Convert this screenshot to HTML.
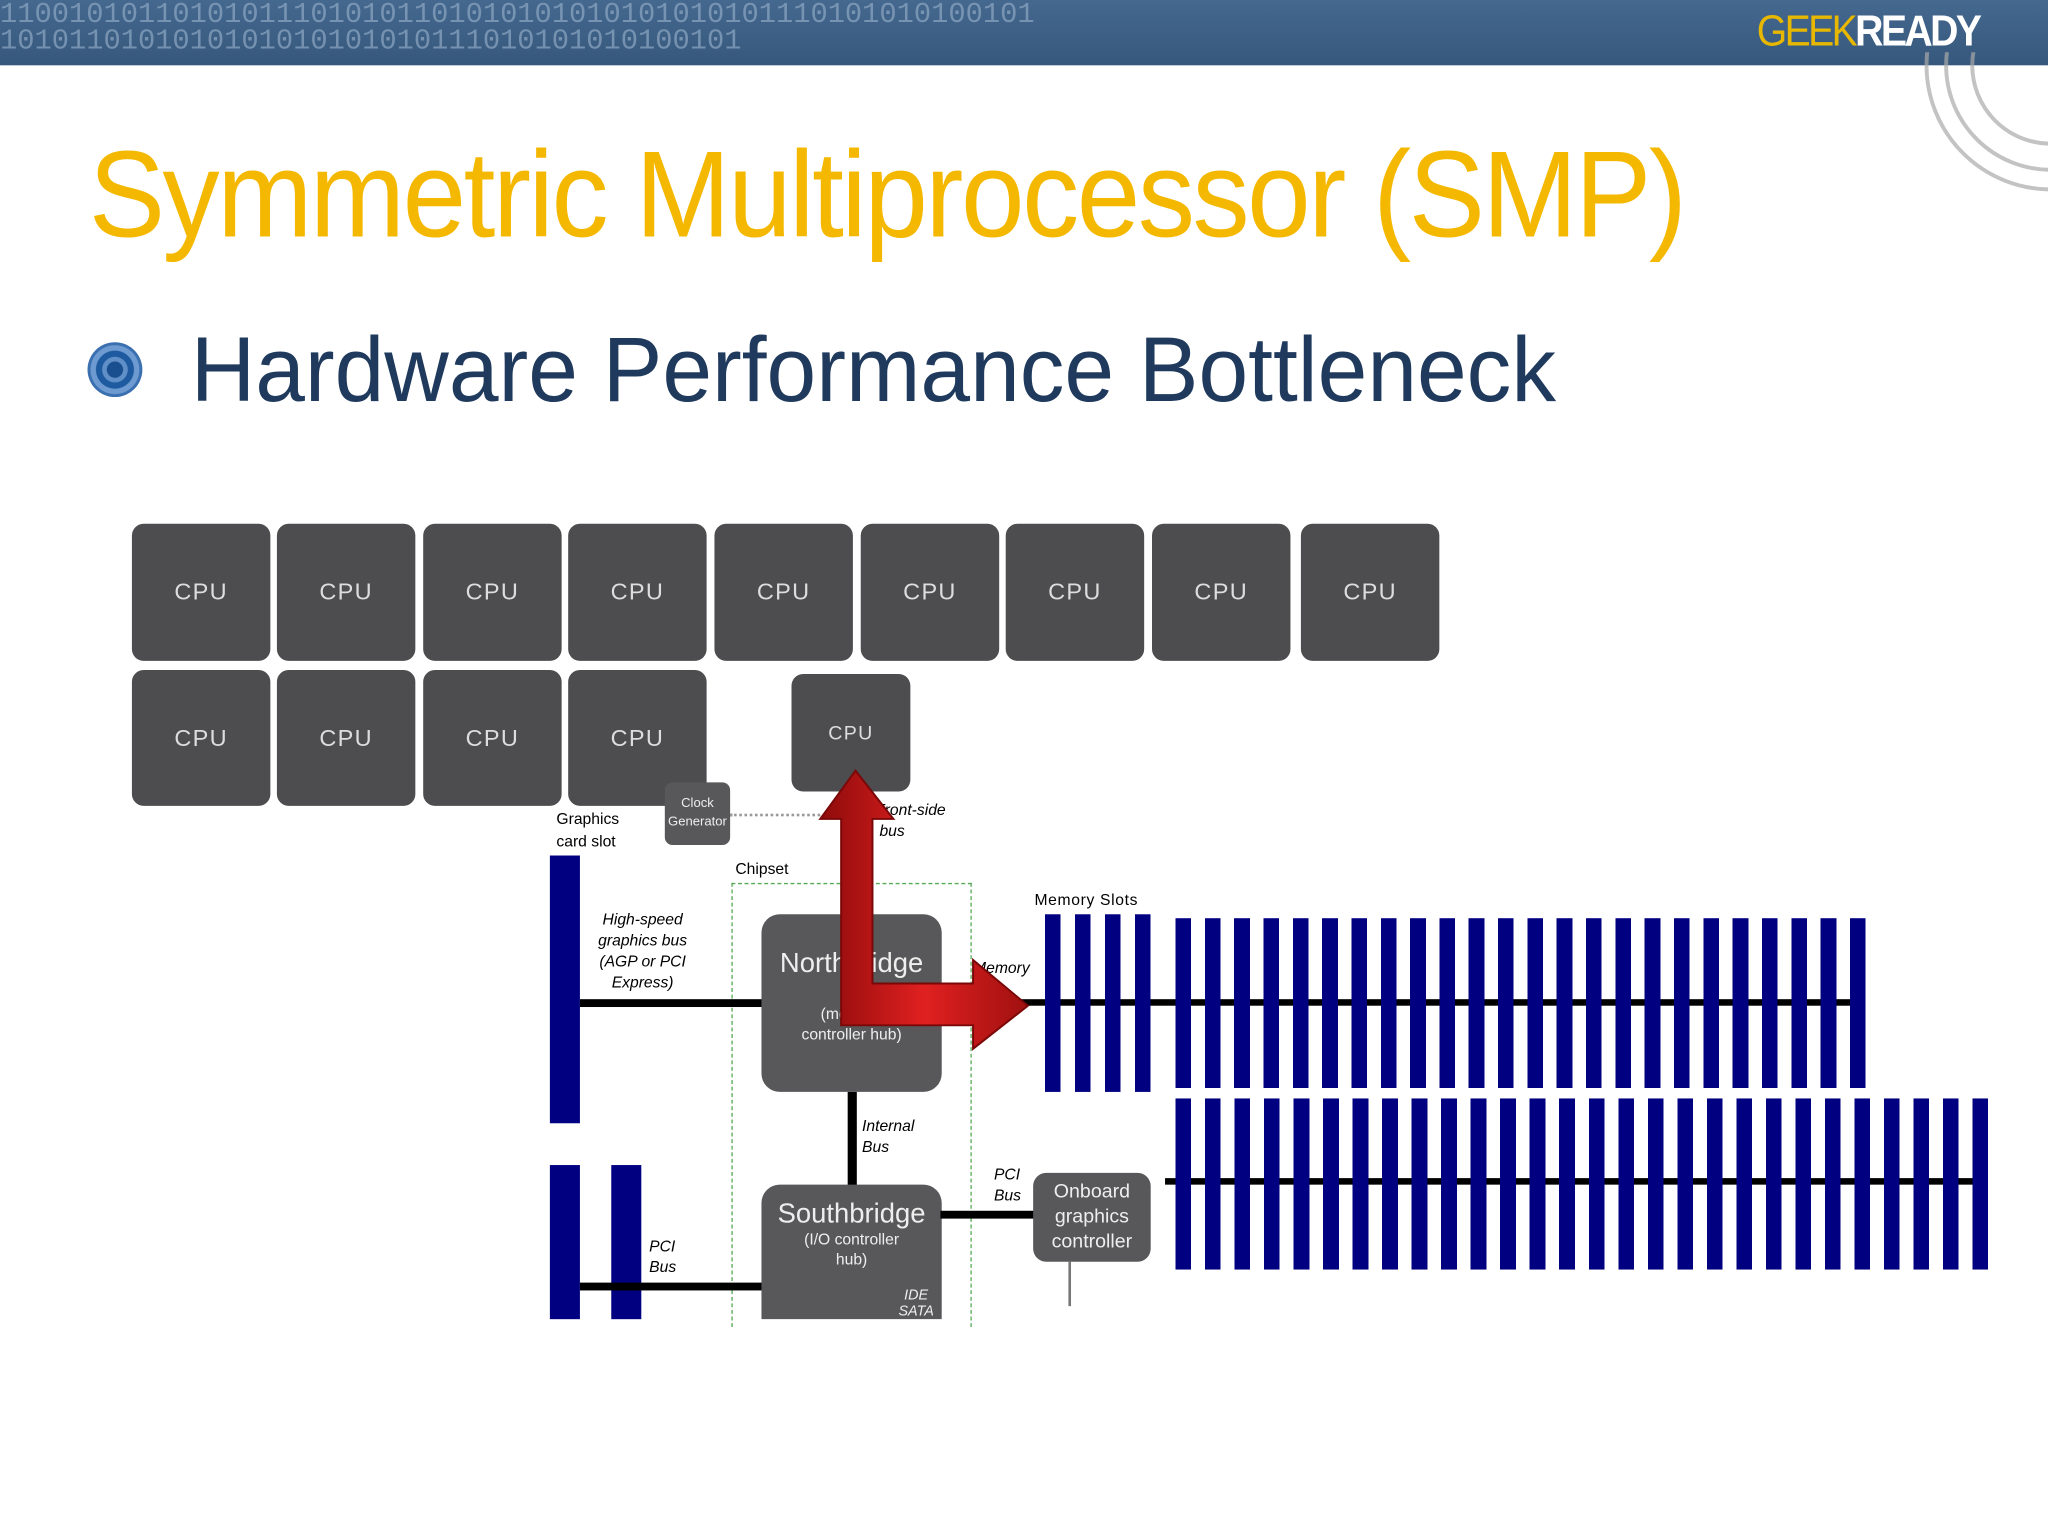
<!DOCTYPE html>
<html><head><meta charset="utf-8"><style>
html,body{margin:0;padding:0;width:2048px;height:1536px;overflow:hidden;background:#fff}
#s{position:absolute;left:0;top:0;width:1568px;height:1176px;transform:scale(1.30612);transform-origin:0 0;font-family:"Liberation Sans","DejaVu Sans",sans-serif}
.a{position:absolute}
.cpu{position:absolute;background:#4d4d4f;border-radius:9px;color:#ddd;font-size:18px;display:flex;align-items:center;justify-content:center;letter-spacing:1px}
.bx{position:absolute;background:#58585a;border-radius:14px;color:#eee;text-align:center}
.nv{position:absolute;background:#000080}
.bk{position:absolute;background:#000}
.it{position:absolute;font-style:italic;font-size:12px;line-height:16px;color:#000}
.sm{position:absolute;font-size:12px;line-height:17px;color:#000}
</style></head><body><div id="s">
<div class="a" style="left:0;top:0;width:1568px;height:50px;background:linear-gradient(#45688f,#36587c)"></div>
<div class="a" style="left:0;top:2px;font-family:'Liberation Mono',monospace;font-size:22px;line-height:20px;color:#8fa8c4;opacity:.7;white-space:pre">110010101101010111010101101010101010101010101110101010100101
1010110101010101010101010111010101010100101</div>
<div class="a" style="left:1345px;top:8px;font-size:30px;font-weight:bold;letter-spacing:-2px;color:#fff;transform:scaleY(1.1)"><span style="color:#e8b800;font-weight:normal">GEEK</span>READY</div>
<svg class="a" style="left:1400px;top:40px" width="168" height="110"><g fill="none" stroke="#aaa" stroke-width="3" opacity=".7"><circle cx="170" cy="10" r="80"/><circle cx="170" cy="10" r="95"/><circle cx="170" cy="10" r="60"/></g></svg>
<div class="a" style="left:68px;top:95px;font-size:94px;color:#f5b800;font-weight:300;letter-spacing:-2px;white-space:nowrap;transform:scaleX(0.93);transform-origin:0 0">Symmetric Multiprocessor (SMP)</div>
<div class="a" style="left:67px;top:262px;width:42px;height:42px;border-radius:50%;background:radial-gradient(circle,#1a4f8f 0 20%,#5f8fc6 22% 32%,#1e5aa0 34% 48%,#6d9ad0 50% 62%,#3a6fb0 64%)"></div>
<div class="a" style="left:146px;top:243px;font-size:70px;color:#1f3a5c;white-space:nowrap;transform:scaleX(0.977);transform-origin:0 0">Hardware Performance Bottleneck</div>

<div class="cpu" style="left:101px;top:401px;width:106px;height:105px">CPU</div>
<div class="cpu" style="left:212px;top:401px;width:106px;height:105px">CPU</div>
<div class="cpu" style="left:324px;top:401px;width:106px;height:105px">CPU</div>
<div class="cpu" style="left:435px;top:401px;width:106px;height:105px">CPU</div>
<div class="cpu" style="left:547px;top:401px;width:106px;height:105px">CPU</div>
<div class="cpu" style="left:659px;top:401px;width:106px;height:105px">CPU</div>
<div class="cpu" style="left:770px;top:401px;width:106px;height:105px">CPU</div>
<div class="cpu" style="left:882px;top:401px;width:106px;height:105px">CPU</div>
<div class="cpu" style="left:996px;top:401px;width:106px;height:105px">CPU</div>
<div class="cpu" style="left:101px;top:513px;width:106px;height:104px">CPU</div>
<div class="cpu" style="left:212px;top:513px;width:106px;height:104px">CPU</div>
<div class="cpu" style="left:324px;top:513px;width:106px;height:104px">CPU</div>
<div class="cpu" style="left:435px;top:513px;width:106px;height:104px">CPU</div>
<div class="cpu" style="left:606px;top:516px;width:91px;height:90px;font-size:15px">CPU</div>

<div class="bx" style="left:509px;top:599px;width:50px;height:48px;border-radius:6px;font-size:10px;line-height:14px;padding-top:10px;box-sizing:border-box;overflow:hidden">Clock<br>Generator</div>
<div class="a" style="left:559px;top:623px;width:85px;border-top:2px dotted #999"></div>
<div class="sm" style="left:426px;top:619px">Graphics<br>card slot</div>
<div class="it" style="left:670px;top:612px">Front-side<br>&nbsp;bus</div>
<div class="sm" style="left:563px;top:657px">Chipset</div>
<div class="a" style="left:560px;top:676px;width:184px;height:340px;border:1px dashed #5a5;border-bottom:none;box-sizing:border-box"></div>

<div class="nv" style="left:421px;top:655px;width:23px;height:205px"></div>
<div class="nv" style="left:421px;top:892px;width:23px;height:118px"></div>
<div class="nv" style="left:468px;top:892px;width:23px;height:118px"></div>
<div class="bk" style="left:444px;top:765px;width:140px;height:6px"></div>
<div class="bk" style="left:444px;top:982px;width:140px;height:6px"></div>
<div class="it" style="left:450px;top:696px;text-align:center;width:84px">High-speed graphics bus (AGP or PCI Express)</div>
<div class="it" style="left:497px;top:946px">PCI<br>Bus</div>

<div class="bx" style="left:583px;top:700px;width:138px;height:136px"><div style="font-size:21px;margin-top:26px">Northbridge</div><div style="font-size:12px;margin-top:18px;line-height:16px">(memory<br>controller hub)</div></div>
<div class="bk" style="left:649px;top:836px;width:7px;height:72px"></div>
<div class="it" style="left:660px;top:854px">Internal<br>Bus</div>
<div class="bx" style="left:583px;top:907px;width:138px;height:103px;border-radius:14px 14px 0 0"><div style="font-size:21px;margin-top:11px">Southbridge</div><div style="font-size:12px;line-height:15px">(I/O controller<br>hub)</div><div style="position:absolute;right:6px;bottom:0;font-size:11px;font-style:italic;line-height:12px">IDE<br>SATA</div></div>
<div class="bk" style="left:720px;top:927px;width:72px;height:6px"></div>
<div class="it" style="left:761px;top:891px">PCI<br>Bus</div>
<div class="bx" style="left:791px;top:898px;width:90px;height:68px;border-radius:10px;font-size:15px;line-height:19px;padding-top:5px;box-sizing:border-box">Onboard graphics controller</div>
<div class="a" style="left:818px;top:966px;width:2px;height:34px;background:#777"></div>

<div class="sm" style="left:792px;top:681px;letter-spacing:.5px">Memory Slots</div>
<div class="it" style="left:745px;top:733px">Memory<br>&nbsp;bus</div>
<div class="bk" style="left:760px;top:765px;width:660px;height:5px"></div>
<div class="bk" style="left:892px;top:902px;width:620px;height:5px"></div>
<div class="a" style="left:800px;top:700px;width:82px;height:136px;background:repeating-linear-gradient(90deg,#000080 0 12px,transparent 12px 23px)"></div>
<div class="a" style="left:900px;top:703px;width:530px;height:130px;background:repeating-linear-gradient(90deg,#000080 0 12px,transparent 12px 22.45px)"></div>
<div class="a" style="left:900px;top:841px;width:624px;height:131px;background:repeating-linear-gradient(90deg,#000080 0 12px,transparent 12px 22.6px)"></div>

<svg class="a" style="left:620px;top:585px" width="180" height="230">
<defs><linearGradient id="g" x1="0" x2="1"><stop offset="0" stop-color="#8e0b0b"/><stop offset=".5" stop-color="#e02020"/><stop offset="1" stop-color="#a01010"/></linearGradient></defs>
<path d="M35 5 L64 42 L48 42 L48 168 L125 168 L125 150 L167 185 L125 218 L125 200 L24 200 L24 42 L8 42 Z" fill="url(#g)" stroke="#7a0808" stroke-width="1.5"/>
</svg>
</div></body></html>
